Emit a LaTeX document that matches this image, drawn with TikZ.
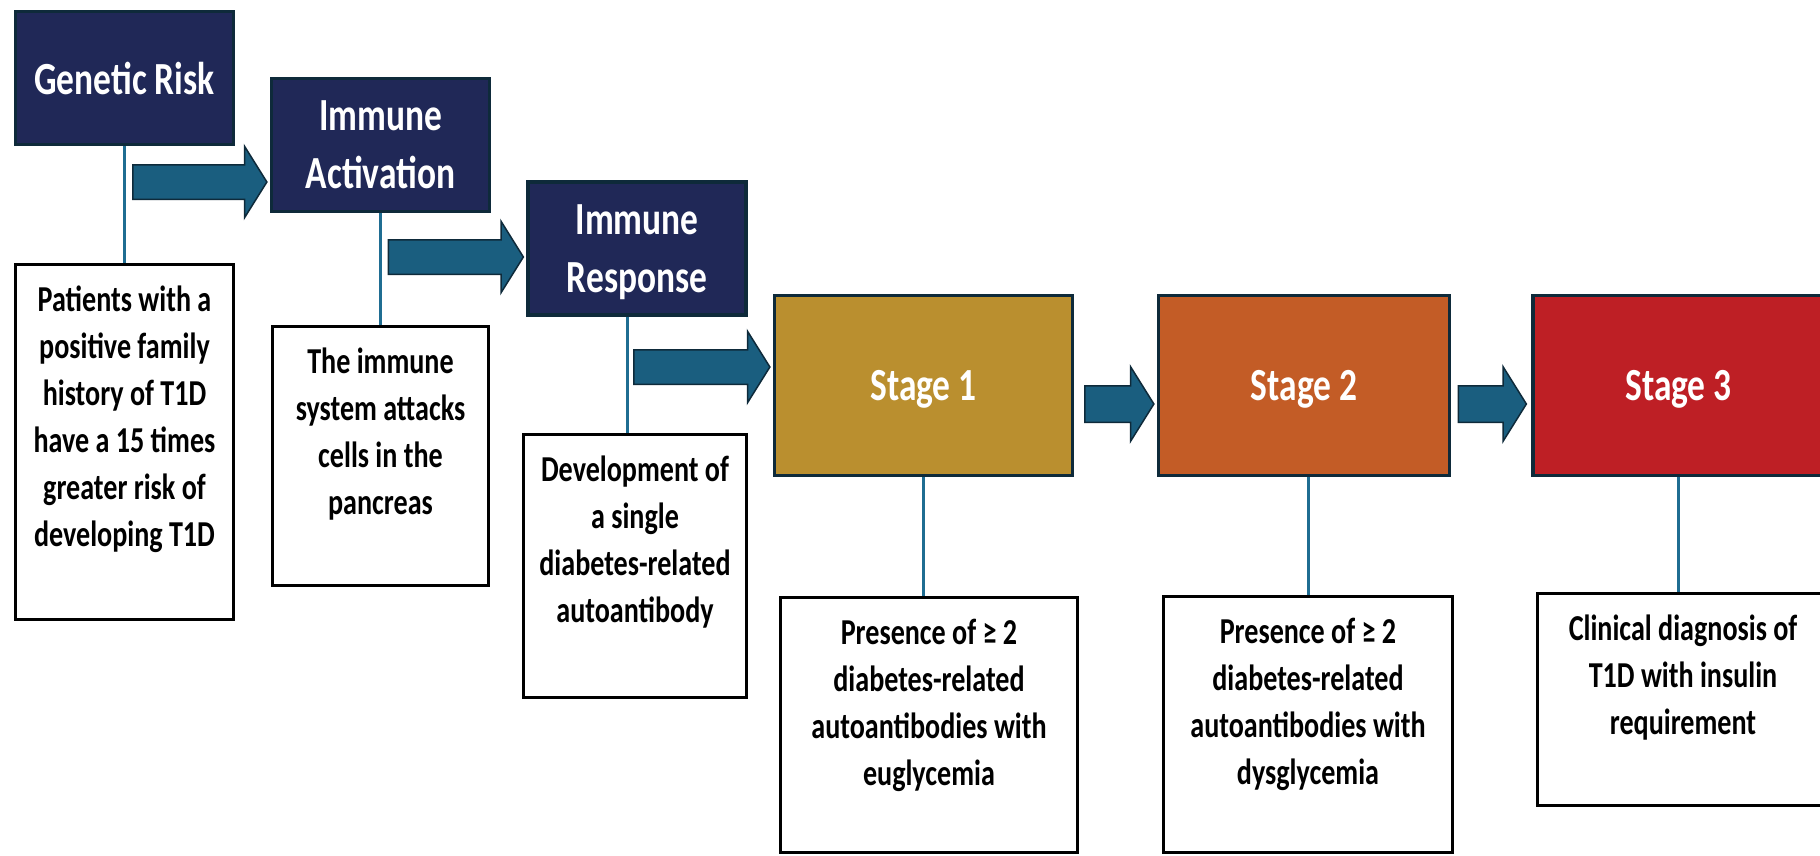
\documentclass[tikz,border=0pt]{standalone}
\usepackage{fontspec}
\setmainfont{Carlito}[FakeStretch=0.77]
\usepackage{tikz}
\usetikzlibrary{positioning,shapes.arrows}

\definecolor{navy}{HTML}{202857}
\definecolor{stgone}{HTML}{BA8F2F}
\definecolor{stgtwo}{HTML}{C35C26}
\definecolor{stgthree}{HTML}{BE1F25}
\definecolor{boxedge}{HTML}{0E2A3A}
\definecolor{arrowfill}{HTML}{1A5E7F}
\definecolor{stemline}{HTML}{1F6D92}

\begin{document}
\begin{tikzpicture}[x=1pt, y=-1pt,
  head/.style={draw=boxedge, line width=3.5pt, fill=navy, text=white, align=center, inner sep=0pt,
    text depth=0pt, font=\fontsize{46}{58}\selectfont\bfseries, minimum width=218pt, minimum height=133pt},
  stage/.style={head, minimum width=298pt, minimum height=180pt},
  desc/.style={draw=black, line width=3pt, inner sep=0pt},
  desctext/.style={align=center, inner sep=0pt, font=\fontsize{36.5}{47}\selectfont\bfseries},
  stem/.style={draw=stemline, line width=3pt},
  blockarrow/.style={single arrow, draw=boxedge, line width=1.5pt, fill=arrowfill, inner sep=0pt,
    minimum width=0pt, text height=33pt, text depth=0pt, single arrow head extend=18.5pt,
    single arrow tip angle=116, anchor=tip}]
  \useasboundingbox (0,0) rectangle (1820,856);

  \node[head] (gr) at (124.5,78) {Genetic Risk};
  \node[head] (ia) at (380.5,145) {Immune\\Activation};
  \node[head] (ir) at (637,248.5) {Immune\\Response};
  \node[stage, fill=stgone] (s1) at (923.5,385.5) {Stage 1};
  \node[stage, fill=stgtwo, minimum width=291pt] (s2) at (1304,385.5) {Stage 2};
  \node[stage, fill=stgthree, minimum width=291pt] (s3) at (1678.5,385.5) {Stage 3};

  \node[desc, minimum width=218pt, minimum height=355pt] (d1) at (124.5,442) {};
  \node[desc, minimum width=216pt, minimum height=259pt] (d2) at (380.5,456) {};
  \node[desc, minimum width=223pt, minimum height=263pt] (d3) at (635,566) {};
  \node[desc, minimum width=297pt, minimum height=255pt] (d4) at (929,725) {};
  \node[desc, minimum width=289pt, minimum height=256pt] (d5) at (1308,724.5) {};
  \node[desc, minimum width=291pt, minimum height=212pt] (d6) at (1683,699.5) {};

  \node[desctext, below=15pt of d1.north] (t1) {\strut Patients with a\\positive family\\history of T1D\\have a 15 times\\greater risk of\\developing T1D};
  \node[desctext, below=15pt of d2.north] (t2) {\strut The immune\\system attacks\\cells in the\\pancreas};
  \node[desctext, below=15pt of d3.north] (t3) {\strut Development of\\a single\\diabetes-related\\autoantibody};
  \node[desctext, below=15pt of d4.north] (t4) {\strut Presence of ≥ 2\\diabetes-related\\autoantibodies with\\euglycemia};
  \node[desctext, below=15pt of d5.north] (t5) {\strut Presence of ≥ 2\\diabetes-related\\autoantibodies with\\dysglycemia};
  \node[desctext, below=15pt of d6.north] (t6) {\strut Clinical diagnosis of\\T1D with insulin\\requirement};

  \draw[stem] (gr) -- (d1);
  \draw[stem] (ia) -- (d2);
  \draw[stem] ([xshift=-10pt]ir.south) -- ([xshift=-10pt]ir.south |- d3.north);
  \draw[stem] (s1.south) -- (s1.south |- d4.north);
  \draw[stem] (d5.north |- s2.south) -- (d5.north);
  \draw[stem] (s3.south) -- (s3.south |- d6.north);

  \node[blockarrow, minimum height=134pt] (a1) at ([xshift=-2pt,yshift=-37pt]ia.west) {};
  \node[blockarrow, minimum height=135pt] (a2) at ([xshift=-2pt,yshift=-8.5pt]ir.west) {};
  \node[blockarrow, minimum height=136pt] (a3) at ([xshift=-2pt,yshift=18.5pt]s1.west) {};
  \node[blockarrow, minimum height=69pt, text height=35pt, single arrow head extend=19pt] (a4) at ([xshift=-2pt,yshift=-18.5pt]s2.west) {};
  \node[blockarrow, minimum height=68pt, text height=35pt, single arrow head extend=19pt] (a5) at ([xshift=-4pt,yshift=-18.5pt]s3.west) {};
\end{tikzpicture}
\end{document}
